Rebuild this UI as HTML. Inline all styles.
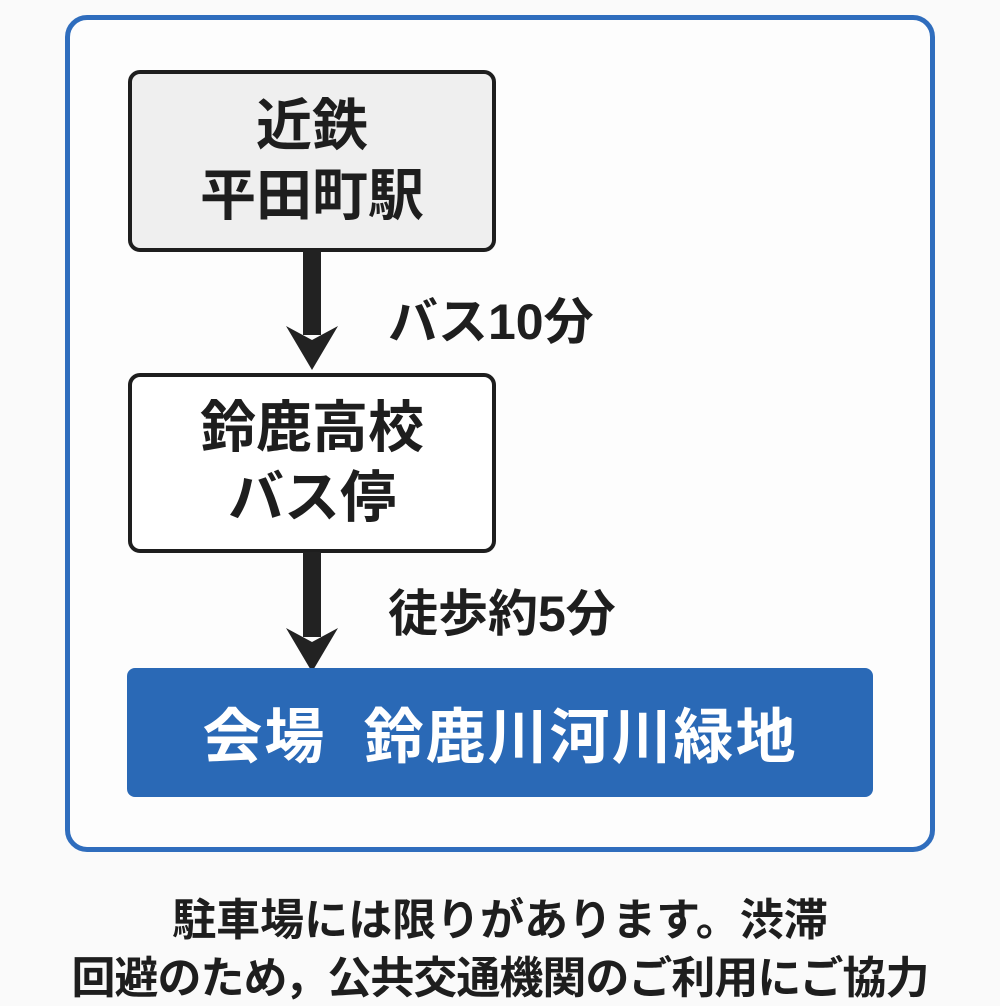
<!DOCTYPE html>
<html><head><meta charset="utf-8"><style>
html,body{margin:0;padding:0;background:#fafafa;}
body{width:1000px;height:1000px;position:relative;overflow:hidden;font-family:"Liberation Sans","Noto Sans CJK JP",sans-serif;font-weight:bold;color:#1e1e1e;}
.abs{position:absolute;}
.outer{left:65px;top:15px;width:860px;height:827px;border:5px solid #2f6dbd;border-radius:22px;background:#fdfdfd;}
.box{left:128px;width:360px;border:4px solid #1e1e1e;border-radius:12px;display:flex;flex-direction:column;align-items:center;justify-content:center;font-size:56px;line-height:70px;}
.lbl{font-size:50px;left:388px;}
.blue{left:127px;top:668px;width:746px;height:129px;background:#2a69b6;border-radius:8px;color:#fff;font-size:60px;display:flex;align-items:center;justify-content:center;letter-spacing:2px;}
.bt{left:0;width:1000px;text-align:center;font-size:44px;white-space:nowrap;}
</style></head><body>
<div class="abs outer"></div>
<div class="abs box" style="top:70px;height:174px;background:#efefef;"><div>近鉄</div><div>平田町駅</div></div>
<div class="abs box" style="top:373px;height:172px;background:#fff;"><div>鈴鹿高校</div><div>バス停</div></div>
<svg class="abs" style="left:0;top:0" width="1000" height="1000">
<rect x="303" y="250" width="18" height="85" fill="#222"/>
<polygon points="286,326 312,370 338,326 312,340" fill="#222"/>
<rect x="303" y="552" width="18" height="85" fill="#222"/>
<polygon points="286,628 312,672 338,628 312,642" fill="#222"/>
</svg>
<div class="abs lbl" style="top:282px;">バス10分</div>
<div class="abs lbl" style="top:574px;">徒歩約5分</div>
<div class="abs blue">会場&nbsp;&nbsp;鈴鹿川河川緑地</div>
<div class="abs bt" style="top:884px;">駐車場には限りがあります。渋滞</div>
<div class="abs bt" style="top:942px;letter-spacing:-1px;">回避のため，公共交通機関のご利用にご協力</div>
</body></html>
